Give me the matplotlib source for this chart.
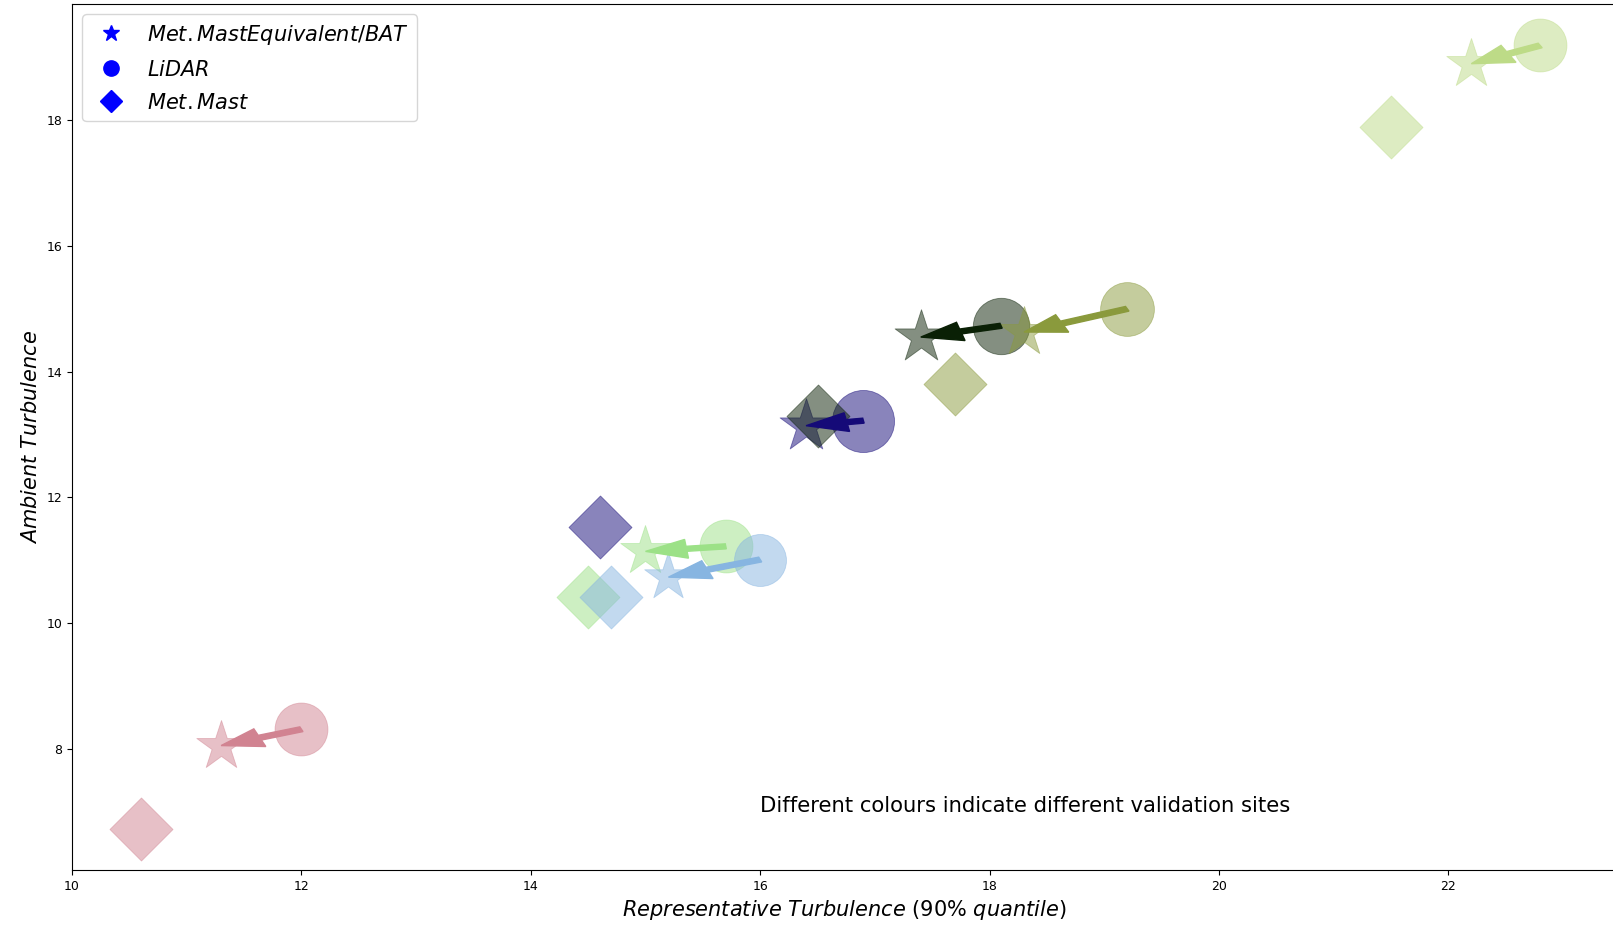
import matplotlib.pyplot as plt
from matplotlib.lines import Line2D

# one entry per validation site
colours = ["#d18391", "#9ce187", "#87b5e1", "#150a78", "#0a2005", "#8a9a3c", "#bddb87"]
lidar_x = [12.0, 15.7, 16.0, 16.9, 18.1, 19.2, 22.8]
lidar_y = [8.31, 11.22, 11.01, 13.22, 14.73, 15.0, 19.19]
bat_x = [11.3, 15.0, 15.2, 16.4, 17.4, 18.3, 22.2]
bat_y = [8.05, 11.14, 10.73, 13.14, 14.55, 14.63, 18.9]
mast_x = [10.6, 14.5, 14.7, 14.6, 16.5, 17.7, 21.5]
mast_y = [6.72, 10.42, 10.42, 11.52, 13.3, 13.81, 17.9]
lidar_size = [1450, 1450, 1400, 2000, 1650, 1500, 1450]
bat_size = [1400, 1400, 1300, 1600, 1600, 1400, 1400]
mast_size = 1030

fig = plt.figure(figsize=(16.13, 9.25), dpi=100)
ax = fig.add_axes([72/1613, 55/925, 1544/1613, 866/925])

for i in range(len(colours)):
    c = colours[i]
    ax.scatter(mast_x[i], mast_y[i], s=mast_size, marker="D", color=c, alpha=0.5, linewidths=0.6)
    ax.scatter(lidar_x[i], lidar_y[i], s=lidar_size[i], marker="o", color=c, alpha=0.5, linewidths=0.6)
    ax.scatter(bat_x[i], bat_y[i], s=bat_size[i], marker="*", color=c, alpha=0.5, linewidths=0.6)
    ax.arrow(lidar_x[i], lidar_y[i], bat_x[i]-lidar_x[i], bat_y[i]-lidar_y[i],
             width=0.08, head_width=0.3, head_length=0.36,
             length_includes_head=True, color=c, zorder=3)

handles = [Line2D([], [], ls="", marker="*", color="blue", markersize=12),
           Line2D([], [], ls="", marker="o", color="blue", markersize=11),
           Line2D([], [], ls="", marker="D", color="blue", markersize=11)]
labels = [r"$Met.MastEquivalent/BAT$", r"$LiDAR$", r"$Met.Mast$"]
ax.legend(handles, labels, loc="upper left", fontsize=15, borderpad=0.4,
          handlelength=1.9, labelspacing=0.62)

ax.text(16.0, 7.0, "Different colours indicate different validation sites", fontsize=15.2)

ax.set_xlim(10, 10 + 1544/114.7)
ax.set_ylim(6.07, 19.85)
ax.set_xticks([10, 12, 14, 16, 18, 20, 22])
ax.set_yticks([8, 10, 12, 14, 16, 18])
ax.spines["right"].set_visible(False)
ax.tick_params(labelsize=9)
ax.set_xlabel(r"$Representative\ Turbulence$ (90% $quantile$)", fontsize=15)
ax.set_ylabel(r"$Ambient\ Turbulence$", fontsize=15)

plt.savefig("out.png", dpi=100)
